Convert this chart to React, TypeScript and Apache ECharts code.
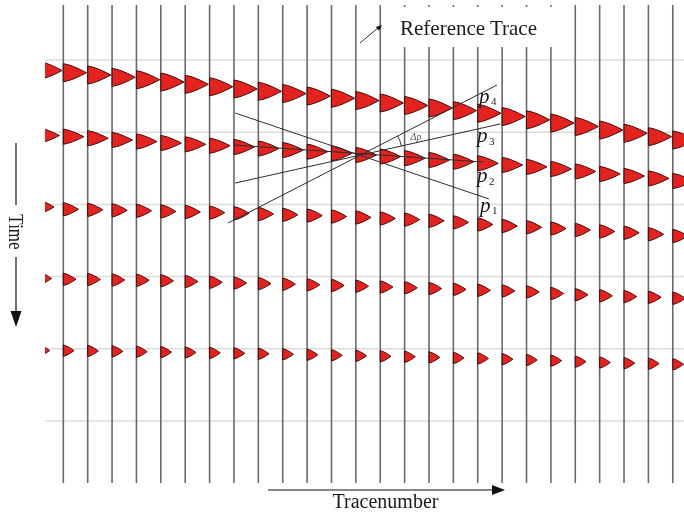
import React, { useEffect, useRef } from "react";
import * as echarts from "echarts";

// ---- data ----
const TRACE_NUMBERS = [-1, 0, 1, 2, 3, 4, 5, 6, 7, 8, 9, 10, 11, 12, 13, 14, 15, 16, 17, 18, 19, 20, 21, 22, 23, 24, 25];
const GRID_TIMES = [100, 200, 300, 400, 500, 600];

// arrival time of each event on each trace (trace -1 .. 25)
const EVENT_1_TIMES = [114.5, 117.6, 120.8, 124.0, 127.3, 130.5, 133.7, 137.0, 140.2, 143.4, 146.5, 149.9, 153.0, 156.2, 159.5, 163.0, 166.5, 170.1, 173.8, 178.3, 182.8, 187.3, 192.1, 197.0, 201.5, 206.2, 210.8];
const EVENT_2_TIMES = [204.6, 206.2, 208.4, 210.8, 212.9, 215.0, 216.8, 218.7, 220.5, 222.6, 224.7, 227.0, 229.2, 231.6, 233.8, 236.0, 238.5, 240.9, 243.1, 245.4, 248.1, 251.0, 254.4, 257.9, 260.7, 264.0, 267.6];
const EVENT_3_TIMES = [303.6, 306.8, 307.5, 308.2, 308.9, 309.7, 310.5, 311.4, 312.3, 313.3, 314.4, 315.5, 316.8, 318.1, 319.5, 321.1, 322.7, 324.9, 327.8, 329.9, 331.7, 333.4, 335.5, 337.5, 339.3, 341.3, 343.8];
const EVENT_4_TIMES = [402.6, 403.7, 404.0, 404.7, 405.1, 405.8, 406.8, 407.9, 408.9, 409.7, 410.5, 411.4, 412.3, 413.3, 414.4, 415.5, 416.6, 417.7, 419.0, 419.9, 421.2, 423.4, 425.2, 426.6, 427.7, 428.7, 430.1];
const EVENT_5_TIMES = [502.4, 502.6, 503.0, 503.6, 504.0, 504.6, 505.1, 505.7, 506.2, 506.9, 507.6, 508.3, 509.0, 509.7, 510.4, 511.1, 511.9, 512.7, 513.4, 514.4, 515.5, 516.5, 517.9, 519.0, 520.0, 520.6, 521.5];
const EVENT_TIMES = [EVENT_1_TIMES, EVENT_2_TIMES, EVENT_3_TIMES, EVENT_4_TIMES, EVENT_5_TIMES];
// peak amplitude (in trace spacings) and half duration (time units) of each event
const EVENT_AMPLITUDES = [0.95, 0.84, 0.62, 0.52, 0.44];
const EVENT_HALF_DURATIONS = [12.5, 10.5, 9.2, 8.5, 7.8];

// slant-stack slope lines p1..p4: [trace, time] end points
const SLOPE_NAMES = ["p1", "p2", "p3", "p4"];
const SLOPE_STARTS = [[7.05, 173.4], [7.0, 217.7], [7.05, 270.4], [6.76, 325.8]];
const SLOPE_ENDS = [[17.46, 292.5], [17.22, 241.3], [17.92, 188.6], [17.79, 134.6]];

const SERIF = "'Liberation Serif', 'Times New Roman', serif";

export default function App() {
  const ref = useRef<HTMLDivElement>(null);

  useEffect(() => {
    if (!ref.current) return;
    const chart = echarts.init(ref.current, undefined, { renderer: "svg" });

    const waveletData: number[][] = [];
    EVENT_TIMES.forEach((times, e) => {
      times.forEach((t, i) => waveletData.push([TRACE_NUMBERS[i], t, e]));
    });

    const slopeSeries = SLOPE_NAMES.map((name, i) => ({
      name,
      type: "line",
      data: [SLOPE_STARTS[i], SLOPE_ENDS[i]],
      symbol: "none",
      silent: true,
      z: 6,
      lineStyle: { color: "#2e2e2e", width: 1 },
    }));

    chart.setOption({
      animation: false,
      grid: { left: 45, right: 0, top: 5, bottom: 29 },
      xAxis: { type: "value", min: -0.751, max: 25.46, show: false },
      yAxis: { type: "value", min: 23.8, max: 685.9, inverse: true, show: false },
      series: [
        {
          type: "custom",
          data: GRID_TIMES.map((t) => [0, t]),
          z: 1,
          silent: true,
          renderItem: (params: any, api: any) => {
            const cs = params.coordSys;
            const p = api.coord([0, api.value(1)]);
            return {
              type: "line",
              shape: { x1: cs.x, y1: p[1], x2: cs.x + cs.width, y2: p[1] },
              style: { stroke: "#dcdcdc", lineWidth: 1.5 },
            };
          },
        },
        {
          type: "custom",
          data: TRACE_NUMBERS.map((k) => [k, 300]),
          z: 2,
          clip: true,
          silent: true,
          renderItem: (params: any, api: any) => {
            const cs = params.coordSys;
            const p = api.coord([api.value(0), 300]);
            return {
              type: "line",
              shape: { x1: p[0], y1: cs.y, x2: p[0], y2: cs.y + cs.height },
              style: { stroke: "#6a6a6a", lineWidth: 1.6 },
            };
          },
        },
        {
          type: "custom",
          data: waveletData,
          z: 4,
          clip: true,
          silent: true,
          encode: { x: 0, y: 1 },
          renderItem: (params: any, api: any) => {
            const k = api.value(0);
            const t = api.value(1);
            const e = api.value(2);
            const A = EVENT_AMPLITUDES[e];
            const H = EVENT_HALF_DURATIONS[e];
            const pts: number[][] = [];
            const N = 18;
            pts.push(api.coord([k, t - H]));
            for (let i = 0; i <= N; i++) {
              const s = -1 + (2 * i) / N;
              const off = A * Math.pow(1 - Math.abs(s), 0.72);
              pts.push(api.coord([k + off, t + H * s]));
            }
            pts.push(api.coord([k, t + H]));
            return {
              type: "polygon",
              shape: { points: pts },
              style: { fill: "#e3231f", stroke: "#3a0c0c", lineWidth: 1 },
            };
          },
        },
        ...slopeSeries,
      ],
    });

    // annotations
    const px = (pt: number[]) => chart.convertToPixel({ gridIndex: 0 }, pt) as number[];
    const a1 = px(SLOPE_STARTS[3]), a2 = px(SLOPE_ENDS[3]);
    const b1 = px(SLOPE_STARTS[2]), b2 = px(SLOPE_ENDS[2]);
    const d = (a1[0] - a2[0]) * (b1[1] - b2[1]) - (a1[1] - a2[1]) * (b1[0] - b2[0]);
    const u = ((a1[0] - b1[0]) * (b1[1] - b2[1]) - (a1[1] - b1[1]) * (b1[0] - b2[0])) / d;
    const cx = a1[0] + u * (a2[0] - a1[0]);
    const cy = a1[1] + u * (a2[1] - a1[1]);
    const angA = Math.atan2(a2[1] - a1[1], a2[0] - a1[0]);
    const angB = Math.atan2(b2[1] - b1[1], b2[0] - b1[0]);

    const txt = (x: number, y: number, text: string, size: number, extra: any = {}) => ({
      type: "text",
      x,
      y,
      z: 100,
      silent: true,
      style: {
        text,
        fontSize: size,
        fontFamily: SERIF,
        fill: "#1a1a1a",
        align: "left",
        textAlign: "left",
        verticalAlign: "middle",
        textVerticalAlign: "middle",
        ...extra,
      },
    });

    const pLabels = [
      { x: 480, y: 205, sx: 492, sy: 210, s: "1" },
      { x: 477, y: 175, sx: 489, sy: 181, s: "2" },
      { x: 477, y: 135, sx: 489, sy: 141, s: "3" },
      { x: 479, y: 96, sx: 491, sy: 101, s: "4" },
    ];

    const graphics: any[] = [
      { type: "rect", z: 90, silent: true, shape: { x: 393, y: 7, width: 169, height: 40 }, style: { fill: "#ffffff" } },
      txt(400, 28, "Reference Trace", 21),
      { type: "line", z: 100, silent: true, shape: { x1: 360, y1: 43, x2: 378, y2: 28 }, style: { stroke: "#333", lineWidth: 1 } },
      { type: "polygon", z: 100, silent: true, shape: { points: [[382, 25], [379, 30.7], [375.8, 26.9]] }, style: { fill: "#111" } },
      // Time label
      { type: "line", z: 100, silent: true, shape: { x1: 16, y1: 143, x2: 16, y2: 205 }, style: { stroke: "#111", lineWidth: 1.2 } },
      { type: "line", z: 100, silent: true, shape: { x1: 16, y1: 257, x2: 16, y2: 312 }, style: { stroke: "#111", lineWidth: 1.2 } },
      { type: "polygon", z: 100, silent: true, shape: { points: [[10.5, 311], [21.5, 311], [16, 327]] }, style: { fill: "#111" } },
      {
        type: "text", z: 100, silent: true, x: 16, y: 232, rotation: -Math.PI / 2, scaleX: 0.85,
        style: { text: "Time", fontSize: 20, fontFamily: SERIF, fill: "#1a1a1a", align: "center", textAlign: "center", verticalAlign: "middle", textVerticalAlign: "middle" },
      },
      // Tracenumber label
      { type: "line", z: 100, silent: true, shape: { x1: 268, y1: 490, x2: 494, y2: 490 }, style: { stroke: "#111", lineWidth: 1.2 } },
      { type: "polygon", z: 100, silent: true, shape: { points: [[492, 485], [492, 495], [505, 490]] }, style: { fill: "#111" } },
      txt(385.5, 501, "Tracenumber", 20, { align: "center", textAlign: "center" }),
      // delta p arc
      { type: "arc", z: 100, silent: true, shape: { cx, cy, r: 42, startAngle: angA, endAngle: angB, clockwise: true }, style: { stroke: "#333", fill: "none", lineWidth: 1 } },
      txt(416, 136, "Δp", 10, { fontStyle: "italic", fill: "#44546a", align: "center", textAlign: "center" }),
    ];
    pLabels.forEach((l) => {
      graphics.push(txt(l.x, l.y, "p", 21, { fontStyle: "italic" }));
      graphics.push(txt(l.sx, l.sy, l.s, 11));
    });

    chart.setOption({ graphic: graphics });

    return () => chart.dispose();
  }, []);

  return <div ref={ref} style={{ position: "fixed", left: 0, top: 0, width: 684, height: 512 }} />;
}
